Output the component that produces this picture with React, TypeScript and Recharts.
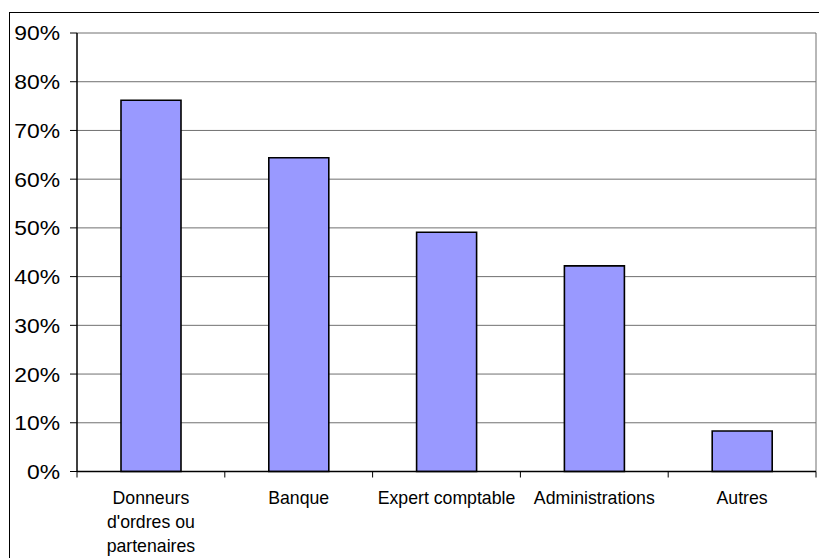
import React from 'react';
import { BarChart, Bar, XAxis, YAxis, CartesianGrid } from 'recharts';

const categories = ["Donneurs\nd'ordres ou\npartenaires", 'Banque', 'Expert comptable', 'Administrations', 'Autres'];
const values = [0.762, 0.644, 0.491, 0.422, 0.083];
const yTicks = [0, 0.1, 0.2, 0.3, 0.4, 0.5, 0.6, 0.7, 0.8, 0.9];

const data = categories.map((c, i) => ({ name: c, value: values[i] }));

const W = 819;
const H = 558;
const MARGIN = { top: 33, right: 3, left: 0, bottom: 0 };
const Y_AXIS_W = 77;
const X_AXIS_H = 86.5;
const PLOT_W = W - Y_AXIS_W - MARGIN.right;
const BAND = PLOT_W / categories.length;
const FONT = '"Liberation Sans", Arial, sans-serif';

const XTick = (props: any) => {
  const { x, y, payload, index } = props;
  const lines = String(payload.value).split('\n');
  const last = index === categories.length - 1;
  return (
    <g>
      <line x1={x - BAND / 2} x2={x - BAND / 2} y1={y} y2={y + 6} stroke="#000" strokeWidth={1} />
      {last && <line x1={x + BAND / 2} x2={x + BAND / 2} y1={y} y2={y + 6} stroke="#000" strokeWidth={1} />}
      <text x={x} y={y + 32.5} textAnchor="middle" fontSize={17.7} fontFamily={FONT} fill="#000">
        {lines.map((l, i) => (
          <tspan key={i} x={x} dy={i === 0 ? 0 : 24}>
            {l}
          </tspan>
        ))}
      </text>
    </g>
  );
};

const YTick = (props: any) => {
  const { x, y, payload } = props;
  return (
    <g transform={`translate(${x},${y})`}>
      <text transform="scale(1.1,1)" textAnchor="end" dy="0.36em" fontSize={20.8} fontFamily={FONT} fill="#000">
        {`${Math.round(payload.value * 100)}%`}
      </text>
    </g>
  );
};

export default function App() {
  return (
    <div style={{ position: 'absolute', left: 0, top: 0, width: W, height: H, overflow: 'hidden', background: '#fff' }}>
      <div
        style={{
          position: 'absolute',
          left: 9,
          top: 12,
          width: 840,
          height: 580,
          border: '1.5px solid #000',
          boxSizing: 'border-box',
        }}
      />
      <div style={{ position: 'absolute', left: 0, top: 0 }}>
        <BarChart width={W} height={H} data={data} margin={MARGIN}>
          <CartesianGrid stroke="#707070" strokeWidth={1} vertical={true} verticalPoints={[W - MARGIN.right]} />
          <XAxis
            dataKey="name"
            height={X_AXIS_H}
            interval={0}
            tickLine={false}
            tickSize={0}
            tickMargin={0}
            axisLine={{ stroke: '#000', strokeWidth: 1.5 }}
            tick={<XTick />}
          />
          <YAxis
            width={Y_AXIS_W}
            domain={[0, 0.9]}
            ticks={yTicks}
            interval={0}
            tickSize={7}
            tickMargin={10}
            tickLine={{ stroke: '#000', strokeWidth: 1 }}
            axisLine={{ stroke: '#000', strokeWidth: 1.5 }}
            tick={<YTick />}
          />
          <Bar dataKey="value" fill="#9999FF" stroke="#000" strokeWidth={1.6} barSize={60} isAnimationActive={false} />
        </BarChart>
      </div>
    </div>
  );
}
